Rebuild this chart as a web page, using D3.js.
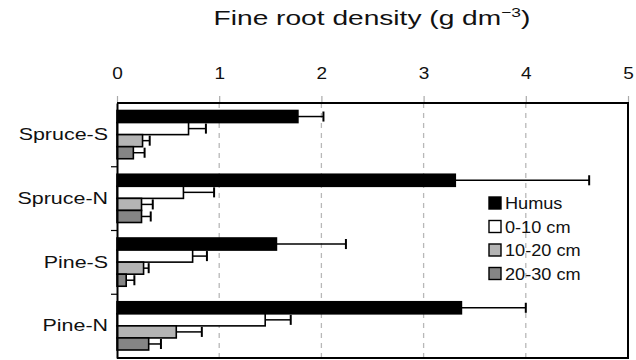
<!DOCTYPE html>
<html>
<head>
<meta charset="utf-8">
<script src="https://cdn.jsdelivr.net/npm/d3@7"></script>
<style>
  html, body { margin: 0; padding: 0; background: #fff; }
  svg { display: block; font-family: Arial, "Liberation Sans", sans-serif; }
</style>
</head>
<body>
<svg id="chart" width="636" height="360"></svg>
<script>
// Sites (top to bottom) and soil layers
const sites = ["Spruce-S", "Spruce-N", "Pine-S", "Pine-N"];
const layers = ["Humus", "0-10 cm", "10-20 cm", "20-30 cm"];
const layerColors = ["#000000", "#ffffff", "#b4b4b4", "#858585"];

// Mean fine root density per site, one array per layer
const humusMean = [1.77, 3.31, 1.56, 3.37];
const depth0to10Mean = [0.70, 0.65, 0.74, 1.45];
const depth10to20Mean = [0.25, 0.24, 0.26, 0.58];
const depth20to30Mean = [0.16, 0.24, 0.09, 0.31];

// Upper end of the error bars (mean + error)
const humusUpper = [2.02, 4.62, 2.24, 4.00];
const depth0to10Upper = [0.87, 0.95, 0.88, 1.70];
const depth10to20Upper = [0.32, 0.35, 0.31, 0.83];
const depth20to30Upper = [0.27, 0.33, 0.17, 0.43];

const xTicks = [0, 1, 2, 3, 4, 5];

const means = [humusMean, depth0to10Mean, depth10to20Mean, depth20to30Mean];
const uppers = [humusUpper, depth0to10Upper, depth10to20Upper, depth20to30Upper];

const rows = [];
sites.forEach((s, i) => {
  layers.forEach((l, j) => {
    rows.push({ site: s, layer: l, li: j, value: means[j][i], upper: uppers[j][i] });
  });
});

const svg = d3.select("#chart");
const plotLeft = 117, plotRight = 628, plotTop = 103, plotBottom = 358;
const FONT = "Arial, 'Liberation Sans', sans-serif";

const x = d3.scaleLinear().domain([0, 5]).range([plotLeft, plotRight]);
const y = d3.scaleBand().domain(sites).range([plotTop, plotBottom]);
const yInner = d3.scaleBand().domain(layers).range([7.5, y.bandwidth() - 8]).padding(0);

// Title (the typeface is set slightly wide)
const title = svg.append("g")
  .attr("transform", "translate(372,25) scale(1.34,1)")
  .append("text")
  .attr("text-anchor", "middle")
  .attr("font-size", 21)
  .attr("fill", "#111");
title.append("tspan").text("Fine root density (g dm");
title.append("tspan").attr("dy", -8).attr("font-size", 13).text("\u22123");
title.append("tspan").attr("dy", 8).text(")");

// Dashed vertical grid lines
svg.append("g")
  .selectAll("line")
  .data(xTicks.filter(t => t > 0 && t < 5))
  .join("line")
  .attr("x1", d => x(d)).attr("x2", d => x(d))
  .attr("y1", plotTop).attr("y2", plotBottom)
  .attr("stroke", "#b8b8b8")
  .attr("stroke-width", 1.3)
  .attr("stroke-dasharray", "5,5");

// Top axis with tick labels
const xAxis = svg.append("g")
  .attr("transform", `translate(0,${plotTop - 1})`)
  .call(d3.axisTop(x).tickValues(xTicks).tickSize(6).tickPadding(17).tickFormat(d3.format("d")));
xAxis.select(".domain").remove();
xAxis.selectAll(".tick line").attr("stroke", "#aaa").attr("stroke-width", 1.2);
xAxis.selectAll(".tick text")
  .attr("font-size", 17)
  .attr("font-family", FONT)
  .attr("fill", "#111")
  .attr("transform", "scale(1.12,1)");

// Bars
const groups = svg.append("g")
  .selectAll("g")
  .data(sites)
  .join("g")
  .attr("transform", d => `translate(0,${y(d)})`);

groups.selectAll("rect")
  .data(s => rows.filter(r => r.site === s))
  .join("rect")
  .attr("x", x(0))
  .attr("y", d => yInner(d.layer))
  .attr("width", d => x(d.value) - x(0))
  .attr("height", yInner.bandwidth())
  .attr("fill", d => layerColors[d.li])
  .attr("stroke", "#000")
  .attr("stroke-width", 1.6);

// Error bars
const err = groups.selectAll("g.err")
  .data(s => rows.filter(r => r.site === s))
  .join("g").attr("class", "err");
err.append("line")
  .attr("x1", d => x(d.value)).attr("x2", d => x(d.upper))
  .attr("y1", d => yInner(d.layer) + yInner.bandwidth() / 2)
  .attr("y2", d => yInner(d.layer) + yInner.bandwidth() / 2)
  .attr("stroke", "#000").attr("stroke-width", 1.5);
err.append("line")
  .attr("x1", d => x(d.upper)).attr("x2", d => x(d.upper))
  .attr("y1", d => yInner(d.layer) + 1)
  .attr("y2", d => yInner(d.layer) + yInner.bandwidth() - 1)
  .attr("stroke", "#000").attr("stroke-width", 2);

// Plot frame (top, right, bottom)
svg.append("path")
  .attr("d", `M${plotLeft},${plotTop}H${plotRight}V${plotBottom}H${plotLeft}`)
  .attr("fill", "none").attr("stroke", "#000").attr("stroke-width", 2);

// Left axis with site labels
const labelScale = 1.3;
const yAxis = svg.append("g")
  .attr("transform", `translate(${plotLeft},0)`)
  .call(d3.axisLeft(y).tickSize(0).tickPadding(9));
yAxis.select(".domain").attr("stroke", "#000").attr("stroke-width", 2);
yAxis.selectAll(".tick text")
  .attr("font-size", 16.5)
  .attr("font-family", FONT)
  .attr("fill", "#111")
  .attr("x", -9 / labelScale)
  .attr("transform", `scale(${labelScale},1)`);

// Boundary ticks between site groups
svg.append("g")
  .selectAll("line")
  .data(sites.slice(1))
  .join("line")
  .attr("x1", plotLeft - 6).attr("x2", plotLeft)
  .attr("y1", d => y(d)).attr("y2", d => y(d))
  .attr("stroke", "#000").attr("stroke-width", 1.2);

// Legend
const legend = svg.append("g").attr("transform", "translate(489,197)");
const li = legend.selectAll("g")
  .data(layers)
  .join("g")
  .attr("transform", (d, i) => `translate(0,${i * 23.5})`);
li.append("rect")
  .attr("width", 12).attr("height", 12)
  .attr("fill", (d, i) => layerColors[i])
  .attr("stroke", "#000").attr("stroke-width", 1.4);
li.append("g")
  .attr("transform", "translate(16,12) scale(1.1,1)")
  .append("text")
  .attr("font-size", 16.5)
  .attr("fill", "#111")
  .text(d => d);
</script>
</body>
</html>
